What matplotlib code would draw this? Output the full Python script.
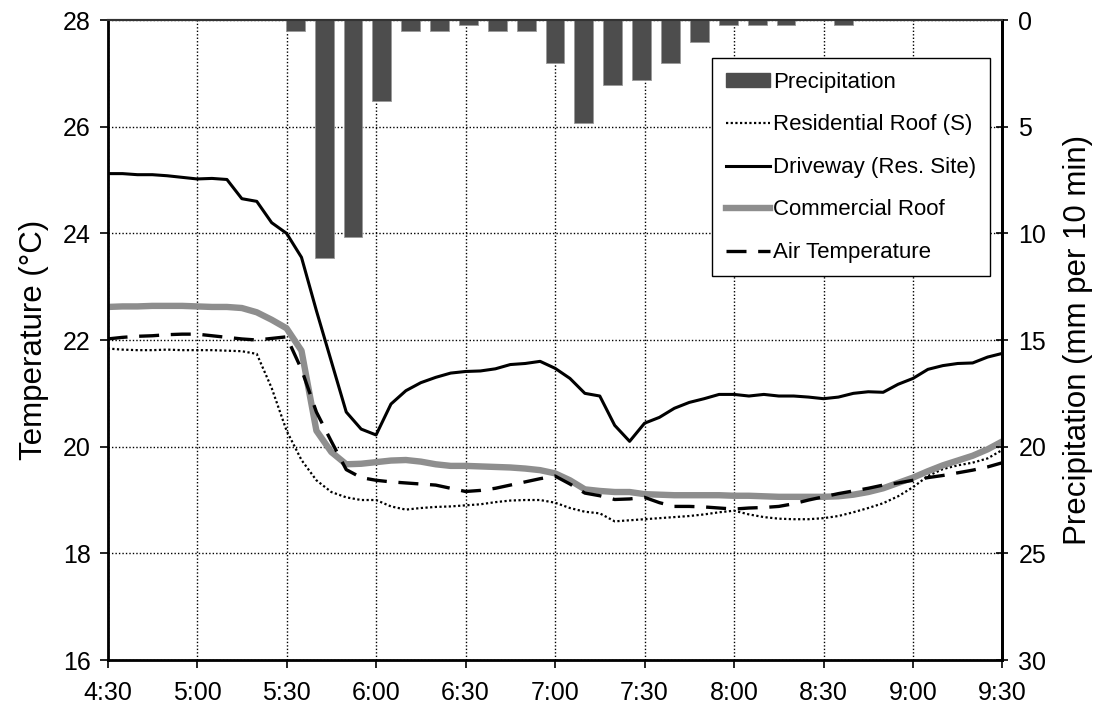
import matplotlib
matplotlib.use('Agg')
import matplotlib.pyplot as plt
import numpy as np
from matplotlib.lines import Line2D
from matplotlib.patches import Patch

plt.rcParams['font.family'] = ['Liberation Sans', 'DejaVu Sans']

# minutes after 4:30, every 5 minutes
minutes = list(range(0, 301, 5))

residential = [21.84, 21.82, 21.81, 21.81, 21.82, 21.81, 21.81, 21.81, 21.80, 21.79,
               21.74, 21.10, 20.30, 19.75, 19.37, 19.15, 19.05, 19.00, 19.00, 18.88,
               18.82, 18.85, 18.87, 18.88, 18.90, 18.92, 18.96, 18.99, 19.00, 19.00,
               18.95, 18.85, 18.78, 18.75, 18.60, 18.62, 18.64, 18.66, 18.68, 18.70,
               18.73, 18.77, 18.80, 18.73, 18.68, 18.65, 18.64, 18.64, 18.66, 18.70,
               18.77, 18.85, 18.94, 19.07, 19.24, 19.45, 19.58, 19.65, 19.70, 19.78,
               19.94]

driveway = [25.12, 25.12, 25.10, 25.10, 25.08, 25.05, 25.02, 25.03, 25.01, 24.65,
            24.60, 24.20, 24.00, 23.55, 22.55, 21.60, 20.65, 20.33, 20.22, 20.80,
            21.05, 21.20, 21.30, 21.38, 21.41, 21.42, 21.46, 21.54, 21.56, 21.60,
            21.47, 21.28, 21.00, 20.95, 20.40, 20.10, 20.44, 20.55, 20.72, 20.83,
            20.90, 20.98, 20.98, 20.95, 20.98, 20.95, 20.95, 20.93, 20.90, 20.93,
            21.00, 21.03, 21.02, 21.17, 21.28, 21.45, 21.52, 21.56, 21.57, 21.68,
            21.75]

commercial = [22.62, 22.63, 22.63, 22.64, 22.64, 22.64, 22.63, 22.62, 22.62, 22.60,
              22.52, 22.38, 22.22, 21.80, 20.30, 19.90, 19.67, 19.68, 19.71, 19.74,
              19.75, 19.72, 19.67, 19.64, 19.64, 19.63, 19.62, 19.61, 19.59, 19.56,
              19.50, 19.37, 19.20, 19.17, 19.15, 19.15, 19.11, 19.10, 19.09, 19.09,
              19.09, 19.09, 19.08, 19.08, 19.07, 19.06, 19.06, 19.06, 19.06, 19.07,
              19.10, 19.15, 19.22, 19.32, 19.42, 19.54, 19.65, 19.74, 19.83, 19.95,
              20.10]

air_temp = [22.02, 22.05, 22.07, 22.08, 22.10, 22.11, 22.11, 22.08, 22.05, 22.02,
            22.00, 22.03, 22.06, 21.45, 20.65, 20.10, 19.57, 19.42, 19.37, 19.34,
            19.32, 19.30, 19.28, 19.22, 19.16, 19.18, 19.22, 19.28, 19.34, 19.40,
            19.45, 19.30, 19.13, 19.08, 19.01, 19.02, 19.05, 18.95, 18.88, 18.88,
            18.87, 18.85, 18.83, 18.85, 18.86, 18.88, 18.93, 19.00, 19.06, 19.12,
            19.17, 19.22, 19.28, 19.32, 19.37, 19.42, 19.46, 19.51, 19.56, 19.62,
            19.70]

# precipitation per 10-min category (4:30 ... 9:30), mm
precip = [0, 0, 0, 0, 0, 0, 0.508, 11.176, 10.16, 3.81,
          0.508, 0.508, 0.254, 0.508, 0.508, 2.032, 4.826, 3.048, 2.794, 2.032,
          1.016, 0.254, 0.254, 0.254, 0, 0.254, 0, 0, 0, 0, 0]

tick_minutes = list(range(0, 301, 30))
tick_labels = ['4:30', '5:00', '5:30', '6:00', '6:30', '7:00',
               '7:30', '8:00', '8:30', '9:00', '9:30']

dotted = (0, (1, 1.1))
dashed = (0, (6, 3.5))

fig = plt.figure(figsize=(10.98, 7.10), dpi=100)
ax = fig.add_axes([0.098, 0.0704, 0.815, 0.9014])

ax.plot(minutes, residential, color='black', lw=1.6, linestyle=dotted)
ax.plot(minutes, driveway, color='black', lw=2.2)
ax.plot(minutes, commercial, color='#8e8e8e', lw=4.6)
ax.plot(minutes, air_temp, color='black', lw=2.4, linestyle=dashed)

ax.set_xlim(0, 300)
ax.set_ylim(16, 28)
ax.set_xticks(tick_minutes)
ax.set_xticklabels(tick_labels)
ax.set_yticks(range(16, 29, 2))
ax.grid(True, color='black', linestyle=(0, (1, 1.5)), lw=1)
ax.set_ylabel('Temperature (°C)', fontsize=22.5, labelpad=10)
ax.tick_params(axis='both', labelsize=18)
ax.tick_params(axis='y', direction='out', length=6, width=1.2, pad=6)
ax.tick_params(axis='x', direction='out', length=6, width=1.2, pad=9)
for side in ['left', 'bottom', 'right']:
    ax.spines[side].set_linewidth(2)
ax.spines['top'].set_linewidth(1.5)
ax.spines['top'].set_color('#333333')

# precipitation on inverted right axis, drawn as 31 categories across the width
ax_p = ax.twinx()
ax_p.set_xlim(0, 300)
cat_width = 300 / len(precip)
cat_x = (np.arange(len(precip)) + 0.5) * cat_width
ax_p.bar(cat_x, precip, width=cat_width * 0.655, color='#4d4d4d',
         edgecolor='#9a9a9a', linewidth=0.6)
ax_p.set_ylim(30, 0)
ax_p.set_yticks(range(0, 31, 5))
ax_p.set_ylabel('Precipitation (mm per 10 min)', fontsize=22.5, labelpad=12)
ax_p.tick_params(axis='y', labelsize=18, direction='inout', length=9, width=1.2, pad=7)
ax_p.spines['right'].set_linewidth(2)
ax_p.spines['top'].set_linewidth(1.5)
ax_p.spines['top'].set_color('#333333')

handles = [
    Patch(facecolor='#4d4d4d', edgecolor='#4d4d4d'),
    Line2D([], [], color='black', lw=1.6, linestyle=dotted),
    Line2D([], [], color='black', lw=2.2),
    Line2D([], [], color='#8e8e8e', lw=4.6),
    Line2D([], [], color='black', lw=2.4, linestyle=dashed),
]
labels = ['Precipitation', 'Residential Roof (S)', 'Driveway (Res. Site)',
          'Commercial Roof', 'Air Temperature']
leg = ax_p.legend(handles, labels, loc='upper right', bbox_to_anchor=(0.986, 0.940),
                  fontsize=16, frameon=True, fancybox=False, framealpha=1,
                  edgecolor='black', handlelength=2.0, handleheight=0.55,
                  handletextpad=0.15, labelspacing=0.97, borderpad=0.6,
                  borderaxespad=0)
leg.get_frame().set_linewidth(1)

fig.savefig('out.png', dpi=100)
